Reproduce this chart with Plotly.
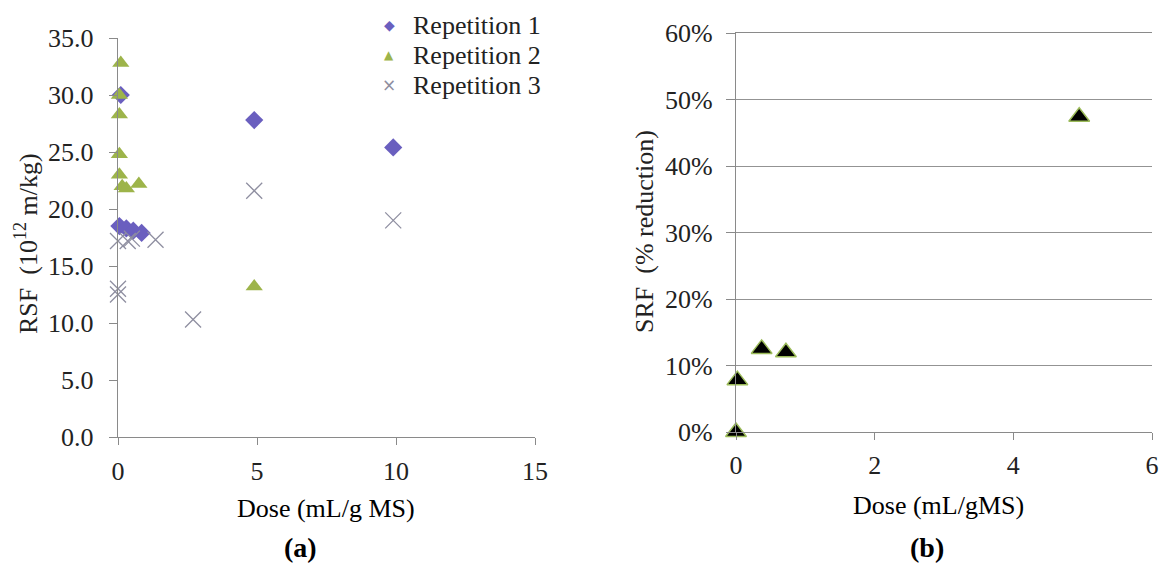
import plotly.graph_objects as go

# ---- Panel (a): RSF vs dose, three repetitions ----
rep1_dose = [0.1, 0.05, 0.3, 0.55, 0.85, 4.9, 9.9]
rep1_rsf = [30.0, 18.5, 18.3, 18.1, 17.9, 27.8, 25.4]

rep2_dose = [0.1, 0.05, 0.05, 0.05, 0.05, 0.15, 0.3, 0.75, 4.9]
rep2_rsf = [32.8, 30.0, 28.3, 24.8, 23.0, 22.0, 21.8, 22.2, 13.2]

rep3_dose = [0.0, 0.35, 0.5, 1.35, 0.0, 0.0, 2.7, 4.9, 9.9]
rep3_rsf = [17.2, 17.2, 17.4, 17.3, 13.0, 12.5, 10.3, 21.6, 19.0]

series_names = ["Repetition 1", "Repetition 2", "Repetition 3"]

# ---- Panel (b): SRF reduction vs dose ----
dose_b = [0.0, 0.02, 0.37, 0.72, 4.95]
srf_b = [0.0, 0.078, 0.125, 0.12, 0.474]

W, H = 1163, 581
FONT = "Liberation Serif"
AXC = "#8a8a8a"
TXT = "#222222"
C1, C2, C3 = "#6a5fbf", "#9db44a", "#8e8ea0"
FS = 26


def px_x(p):
    return p / W


def px_y(p):
    return 1 - p / H


fig = go.Figure()

markers = [
    dict(symbol="diamond", size=14, color=C1),
    dict(symbol="triangle-up", size=15, color=C2),
    dict(symbol="x-thin", size=16, color=C3, line=dict(width=1.3, color=C3)),
]
data_a = [(rep1_dose, rep1_rsf), (rep2_dose, rep2_rsf), (rep3_dose, rep3_rsf)]

for name, (xs, ys), mk in zip(series_names, data_a, markers):
    fig.add_trace(go.Scatter(x=xs, y=ys, mode="markers", name=name,
                             marker=mk, showlegend=False, cliponaxis=False,
                             xaxis="x", yaxis="y"))

fig.add_trace(go.Scatter(
    x=dose_b, y=srf_b, mode="markers", showlegend=False,
    marker=dict(symbol="triangle-up", size=18, color="black",
                line=dict(width=1.5, color="#9bbb59")),
    cliponaxis=False, xaxis="x2", yaxis="y2"))

tickfont = dict(family=FONT, size=FS, color=TXT)

fig.update_layout(
    template="none",
    width=W, height=H,
    margin=dict(l=0, r=0, t=0, b=0, pad=0, autoexpand=False),
    paper_bgcolor="white", plot_bgcolor="white",
    font=dict(family=FONT, color=TXT, size=FS),
    showlegend=False,
    xaxis=dict(domain=[px_x(118), px_x(535)], range=[0, 15],
               tickvals=[0, 5, 10, 15], showline=True, linecolor=AXC,
               linewidth=1.4, ticks="outside", ticklen=7, tickcolor=AXC,
               showgrid=False, zeroline=False, tickfont=tickfont,
               anchor="y", automargin=False, ticklabelstandoff=4),
    yaxis=dict(domain=[px_y(437), px_y(38)], range=[0, 35], dtick=5,
               tickformat=".1f", showline=True, linecolor=AXC,
               linewidth=1.4, ticks="outside", ticklen=8, tickcolor=AXC,
               showgrid=False, zeroline=False, tickfont=tickfont,
               anchor="x", ticklabelstandoff=10, automargin=False),
    xaxis2=dict(domain=[px_x(736), px_x(1152)], range=[0, 6], dtick=2,
                showline=True, mirror=True, linecolor=AXC, linewidth=1.4,
                ticks="outside", ticklen=7, tickcolor=AXC,
                showgrid=False, zeroline=False, tickfont=tickfont,
                anchor="y2", automargin=False, ticklabelstandoff=3),
    yaxis2=dict(domain=[px_y(432), px_y(33)], range=[0, 0.6], dtick=0.1,
                tickformat=".0%", showline=True, linecolor=AXC,
                linewidth=1.4, ticks="outside", ticklen=9, tickcolor=AXC,
                showgrid=True, gridcolor="#939393", gridwidth=1.4,
                zeroline=False, tickfont=tickfont, anchor="x2",
                ticklabelstandoff=8, automargin=False),
)

# legend for panel (a): symbol glyph + series name per row
legend_glyphs = [("\u25C6", C1, 14), ("\u25B2", C2, 12), ("\u00D7", C3, 17)]
for i, (name, (glyph, col, gsize)) in enumerate(zip(series_names,
                                                     legend_glyphs)):
    row_y = px_y(25 + 30 * i)
    fig.add_annotation(text=glyph, x=px_x(389), y=row_y, xref="paper",
                       yref="paper", showarrow=False, xanchor="center",
                       yanchor="middle",
                       font=dict(family="DejaVu Sans", size=gsize, color=col))
    fig.add_annotation(text=name, x=px_x(411), y=row_y, xref="paper",
                       yref="paper", showarrow=False, xanchor="left",
                       yanchor="middle",
                       font=dict(family=FONT, size=FS, color=TXT))

annots = [
    dict(text="Dose (mL/g MS)", x=px_x(326), y=px_y(508), size=FS),
    dict(text="Dose (mL/gMS)", x=px_x(938), y=px_y(505), size=FS),
    dict(text="<b>(a)</b>", x=px_x(300), y=px_y(547), size=28),
    dict(text="<b>(b)</b>", x=px_x(927), y=px_y(547), size=28),
]
for a in annots:
    fig.add_annotation(text=a["text"], x=a["x"], y=a["y"], xref="paper",
                       yref="paper", showarrow=False, xanchor="center",
                       yanchor="middle",
                       font=dict(family=FONT, size=a["size"], color="black"))

fig.add_annotation(text="RSF  (10<sup>12</sup> m/kg)", x=px_x(26),
                   y=px_y(244), xref="paper", yref="paper", textangle=-90,
                   showarrow=False, xanchor="center", yanchor="middle",
                   font=dict(family=FONT, size=FS, color=TXT))
fig.add_annotation(text="SRF  (% reduction)", x=px_x(645), y=px_y(232),
                   xref="paper", yref="paper", textangle=-90,
                   showarrow=False, xanchor="center", yanchor="middle",
                   font=dict(family=FONT, size=FS, color=TXT))

fig.write_html("out.html")
